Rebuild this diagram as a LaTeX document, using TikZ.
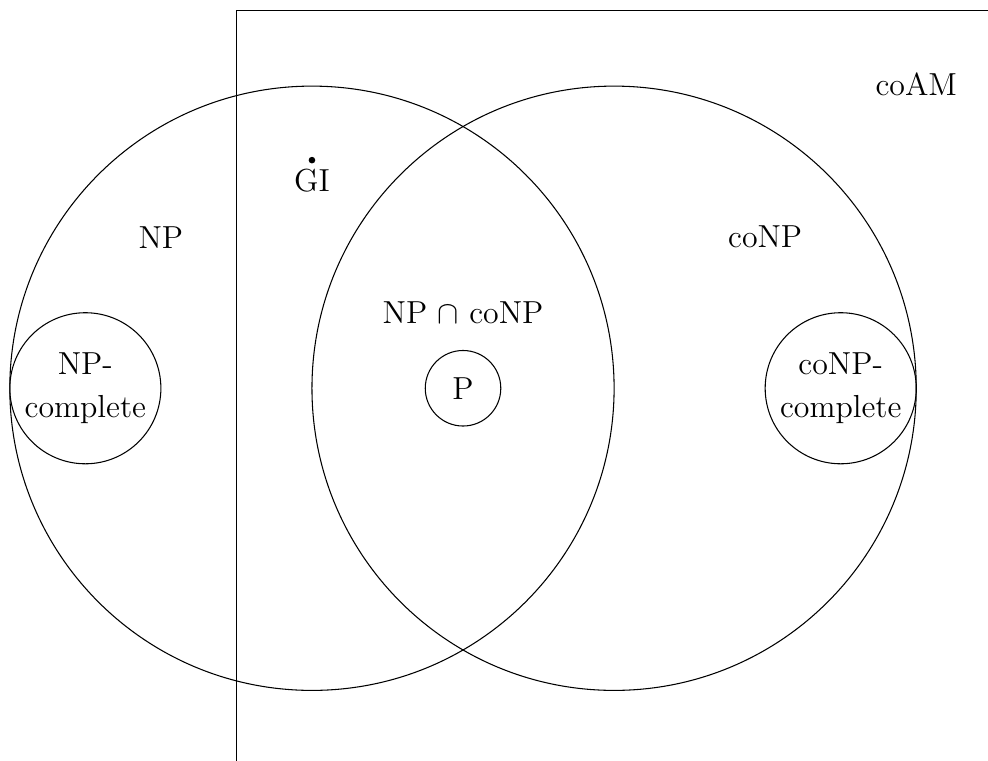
\documentclass[tikz,border=0pt]{standalone}
\usepackage{amsmath,amssymb}
\usetikzlibrary{shapes}

\begin{document}
\begin{tikzpicture}[font=\large,
    smallclass/.style={circle,draw,inner sep=0pt,align=center}]
            \useasboundingbox (-4.13,-4.93) rectangle (8.95,5.14);
            % coAM box, open towards the right and the bottom
            \draw (-1,-5.2)--(-1,5)--(9.2,5);
            \node (coam) at (8,4.03) {coAM};
            % NP and coNP
            \draw (0,0) circle (4);
            \draw (4,0) circle (4);
            \node (np) at (-2,2) {NP};
            \node (conp) at (6,2) {coNP};
            \node (npconp) at (2,1) {NP \(\cap\) coNP};
            % classes inside
            \node[smallclass,minimum size=1cm] (p) at (2,0) {P};
            \node[smallclass,minimum size=2cm] (npc) at (-3,0) {NP-\\[2.5pt]complete};
            \node[smallclass,minimum size=2cm] (conpc) at (7,0) {coNP-\\[2.5pt]complete};
            % graph isomorphism
            \fill (0,3.02) circle (1.25pt) coordinate (gidot);
            \node[below] (gi) at (gidot) {GI};
\end{tikzpicture}
\end{document}
